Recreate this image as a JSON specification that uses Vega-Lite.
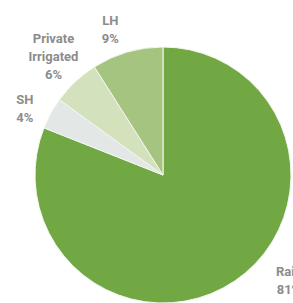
{
  "$schema": "https://vega.github.io/schema/vega-lite/v6.json",
  "width": 256,
  "height": 256,
  "autosize": {"type": "none"},
  "padding": {"left": 35, "top": 47, "right": 2, "bottom": 0},
  "background": "white",
  "data": {
    "values": [
      {"source": "Rain", "share": 81, "rank": 1, "label": "Rain\n81%"},
      {"source": "SH", "share": 4, "rank": 2, "label": "SH\n4%"},
      {"source": "Private Irrigated", "share": 6, "rank": 3, "label": "Private\nIrrigated\n6%"},
      {"source": "LH", "share": 9, "rank": 4, "label": "LH\n9%"}
    ]
  },
  "encoding": {
    "theta": {"field": "share", "type": "quantitative", "stack": true},
    "order": {"field": "rank", "type": "quantitative"}
  },
  "layer": [
    {
      "mark": {"type": "arc", "stroke": "#f4f7ef", "strokeWidth": 1},
      "encoding": {
        "color": {
          "field": "source",
          "type": "nominal",
          "scale": {
            "domain": ["Rain", "SH", "Private Irrigated", "LH"],
            "range": ["#72a844", "#e3e7e5", "#d4e1bd", "#a5c480"]
          },
          "legend": null
        }
      }
    },
    {
      "mark": {"type": "text", "radius": 160, "dx": 36, "dy": -35, "font": "Roboto", "fontWeight": "bold", "fontSize": 13, "fill": "#8c8c8c", "lineBreak": "\n", "lineHeight": 18, "align": "center", "baseline": "middle"},
      "encoding": {"text": {"field": "label"}, "opacity": {"condition": {"test": "datum.source === 'Rain'", "value": 1}, "value": 0}}
    },
    {
      "mark": {"type": "text", "radius": 160, "dx": 2, "dy": 2, "font": "Roboto", "fontWeight": "bold", "fontSize": 13, "fill": "#8c8c8c", "lineBreak": "\n", "lineHeight": 18, "align": "center", "baseline": "middle"},
      "encoding": {"text": {"field": "label"}, "opacity": {"condition": {"test": "datum.source === 'SH'", "value": 1}, "value": 0}}
    },
    {
      "mark": {"type": "text", "radius": 160, "dx": 0, "dy": -19, "font": "Roboto", "fontWeight": "bold", "fontSize": 13, "fill": "#8c8c8c", "lineBreak": "\n", "lineHeight": 18, "align": "center", "baseline": "middle"},
      "encoding": {"text": {"field": "label"}, "opacity": {"condition": {"test": "datum.source === 'Private Irrigated'", "value": 1}, "value": 0}}
    },
    {
      "mark": {"type": "text", "radius": 160, "dx": -8, "dy": 0, "font": "Roboto", "fontWeight": "bold", "fontSize": 13, "fill": "#8c8c8c", "lineBreak": "\n", "lineHeight": 18, "align": "center", "baseline": "middle"},
      "encoding": {"text": {"field": "label"}, "opacity": {"condition": {"test": "datum.source === 'LH'", "value": 1}, "value": 0}}
    }
  ]
}
